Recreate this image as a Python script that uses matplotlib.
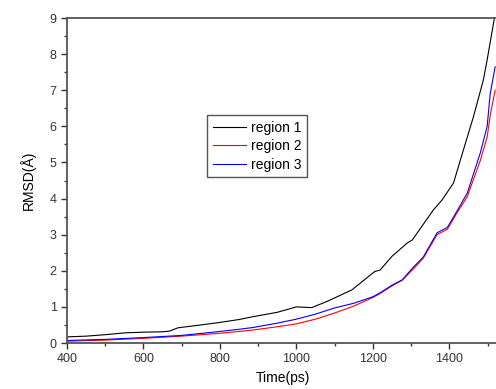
import matplotlib.pyplot as plt
from matplotlib.ticker import MultipleLocator

# values (time in ps, RMSD in angstrom)
t1 = [400, 450, 500, 550, 600, 650, 668, 690, 750, 800, 850, 887, 950, 1000,
      1040, 1080, 1145, 1205, 1219, 1250, 1290, 1303, 1358, 1381, 1411, 1437,
      1463, 1489, 1499, 1518]
region1 = [0.17, 0.19, 0.23, 0.28, 0.30, 0.31, 0.33, 0.42, 0.50, 0.57, 0.65, 0.73,
           0.85, 1.00, 0.98, 1.15, 1.47, 1.98, 2.02, 2.40, 2.77, 2.85, 3.68, 3.96,
           4.43, 5.35, 6.26, 7.28, 7.84, 9.00]

t23 = [400, 500, 600, 700, 800, 850, 887, 950, 1000, 1050, 1100, 1150, 1200,
       1219, 1250, 1277, 1306, 1332, 1368, 1395, 1420, 1447, 1481, 1499, 1507, 1520]
region2 = [0.05, 0.08, 0.13, 0.19, 0.27, 0.32, 0.36, 0.45, 0.53, 0.66, 0.83, 1.02,
           1.26, 1.37, 1.58, 1.74, 2.05, 2.35, 3.00, 3.15, 3.60, 4.05, 5.05, 5.70,
           6.30, 7.00]
region3 = [0.07, 0.10, 0.15, 0.21, 0.32, 0.38, 0.43, 0.55, 0.66, 0.80, 0.97, 1.10,
           1.28, 1.39, 1.60, 1.75, 2.10, 2.38, 3.05, 3.20, 3.65, 4.15, 5.26, 6.00,
           6.90, 7.65]

plt.rcParams['font.family'] = ['Liberation Sans', 'DejaVu Sans']

fig = plt.figure(figsize=(4.96, 3.89), dpi=100)
ax = fig.add_axes([67 / 496, 46 / 389, 432 / 496, 325 / 389])

ax.plot(t1, region1, color='black', lw=0.8, label='region 1')
ax.plot(t23, region2, color='red', lw=0.8, label='region 2')
ax.plot(t23, region3, color='blue', lw=0.8, label='region 3')

ax.set_xlim(400, 1530)
ax.set_ylim(0, 9)
ax.xaxis.set_major_locator(MultipleLocator(200))
ax.xaxis.set_minor_locator(MultipleLocator(100))
ax.yaxis.set_major_locator(MultipleLocator(1))
ax.yaxis.set_minor_locator(MultipleLocator(0.5))
ax.tick_params(which='major', direction='out', length=4, width=1, labelsize=9, colors='#333333')
ax.tick_params(which='minor', direction='out', length=2.5, width=1, colors='#333333')
for s in ax.spines.values():
    s.set_color('#555555')
    s.set_linewidth(1.3)

ax.set_xlabel('Time(ps)', fontsize=10, labelpad=4)
ax.set_ylabel('RMSD(Å)', fontsize=10, labelpad=10)

ax.legend(loc='upper left', bbox_to_anchor=(140 / 432, 228 / 325), fontsize=10,
          frameon=True, fancybox=False, edgecolor='#555555', framealpha=1,
          handlelength=2.4, handletextpad=0.35, borderpad=0.4, labelspacing=0.33,
          borderaxespad=0)

plt.savefig('out.png', dpi=100)
